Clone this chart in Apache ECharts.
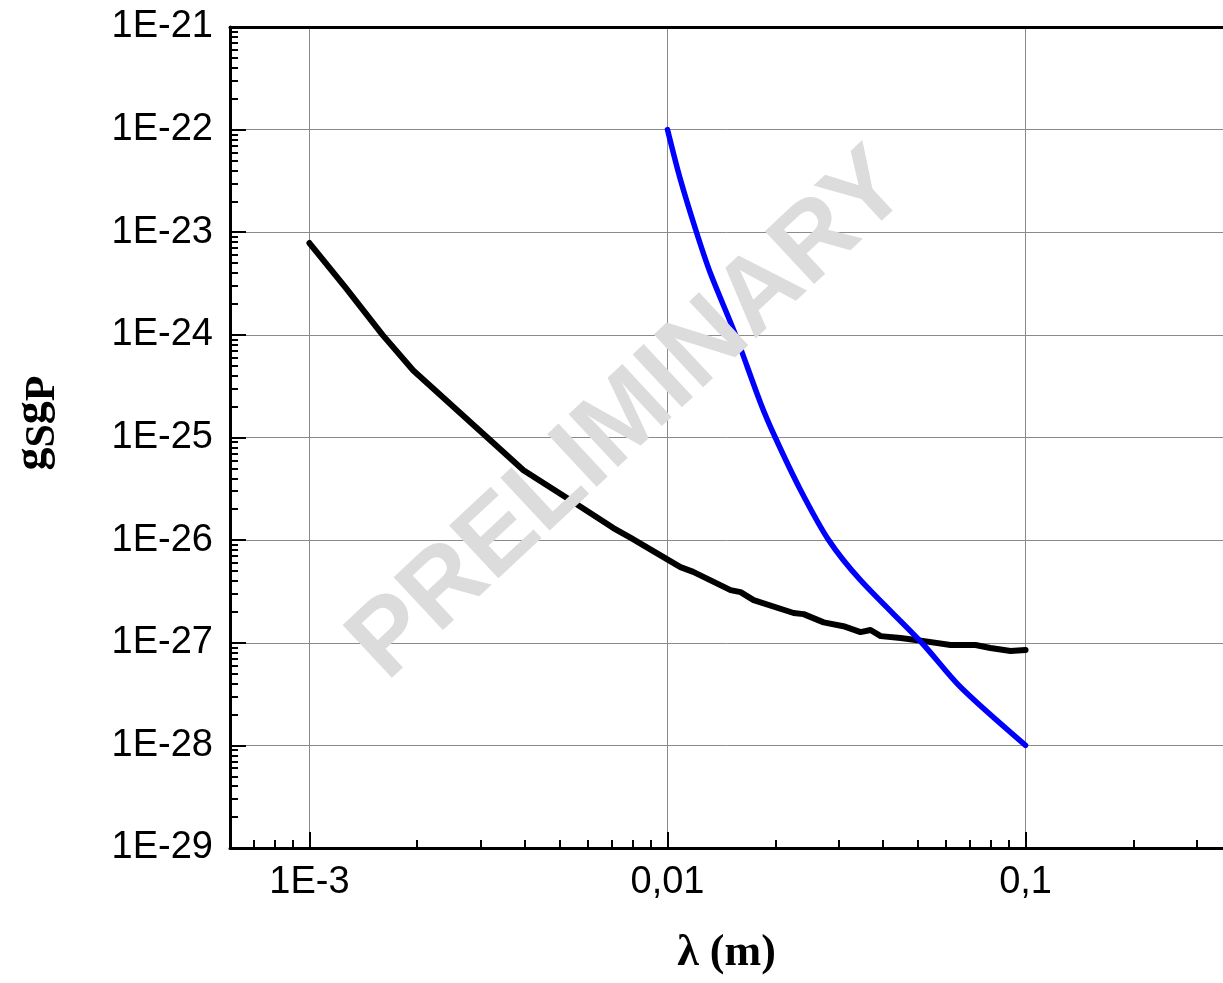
<!DOCTYPE html>
<html>
<head>
<meta charset="utf-8">
<script src="https://cdn.jsdelivr.net/npm/echarts@6/dist/echarts.min.js"></script>
<style>
html,body{margin:0;padding:0;background:#fff;}
#chart{width:1223px;height:983px;}
</style>
</head>
<body>
<div id="chart"></div>
<script>
// ---- data ----
const blackX = [1.0e-3, 1.26e-3, 1.6e-3, 1.95e-3, 3.27e-3, 3.96e-3, 5.36e-3, 7.06e-3, 7.9e-3, 9.56e-3, 1.087e-2, 1.18e-2, 1.50e-2, 1.60e-2, 1.74e-2, 2.25e-2, 2.40e-2, 2.73e-2, 3.10e-2, 3.46e-2, 3.69e-2, 3.94e-2, 4.48e-2, 4.99e-2, 6.17e-2, 7.25e-2, 7.98e-2, 9.08e-2, 0.1];
const blackY = [7.85e-24, 2.9e-24, 1.0e-24, 4.5e-25, 8.8e-26, 4.8e-26, 2.45e-26, 1.31e-26, 1.05e-26, 7.1e-27, 5.46e-27, 4.9e-27, 3.26e-27, 3.11e-27, 2.6e-27, 1.95e-27, 1.9e-27, 1.58e-27, 1.45e-27, 1.27e-27, 1.33e-27, 1.16e-27, 1.11e-27, 1.06e-27, 9.5e-28, 9.5e-28, 8.9e-28, 8.3e-28, 8.5e-28];
const blueX = [1.0e-2, 1.087e-2, 1.205e-2, 1.318e-2, 1.549e-2, 1.82e-2, 2.0e-2, 2.35e-2, 2.82e-2, 3.46e-2, 5.13e-2, 6.58e-2, 0.1];
const blueY = [1e-22, 3.24e-23, 1e-23, 3.98e-24, 1e-24, 2.16e-25, 1e-25, 3.1e-26, 1e-26, 4.07e-27, 1e-27, 3.7e-28, 1e-28];

const xMin = 6e-4, xMax = 0.356;
const yMinExp = -29, yMaxExp = -21;
const xTickValues = [1e-3, 1e-2, 1e-1];
const xTickLabels = ['1E-3', '0,01', '0,1'];
const xMinorTicks = [7e-4, 8e-4, 9e-4, 2e-3, 3e-3, 4e-3, 5e-3, 6e-3, 7e-3, 8e-3, 9e-3, 2e-2, 3e-2, 4e-2, 5e-2, 6e-2, 7e-2, 8e-2, 9e-2, 0.2, 0.3];
const yExponents = [-29, -28, -27, -26, -25, -24, -23, -22, -21];
const xTitle = 'λ (m)';
const watermark = 'PRELIMINARY';

// ECharts rounds log-axis tick values to 20 decimals, so tiny values lose their ticks.
// Plot y in a scaled unit (value * 1e30) and convert back in the tick labels.
const yUnitExp = 30;
const yUnit = 1e30;
const yTickValues = yExponents.map(e => Number('1e' + (e + yUnitExp)));
const yMinorTicks = [];
yExponents.slice(0, -1).forEach(e => {
  [2, 3, 4, 5, 6, 7, 8, 9].forEach(k => yMinorTicks.push(Number(k + 'e' + (e + yUnitExp))));
});
const yAxisMin = Number('1e' + (yMinExp + yUnitExp));
const yAxisMax = Number('1e' + (yMaxExp + yUnitExp));

const pairs = (xs, ys) => xs.map((x, i) => [x, ys[i] * yUnit]);

const labelFont = {color: '#000', fontSize: 38, fontFamily: '"Liberation Sans", Arial, sans-serif'};
const serif = '"Liberation Serif", "Times New Roman", serif';
const chart = echarts.init(document.getElementById('chart'), null, {renderer: 'canvas'});
chart.setOption({
  animation: false,
  backgroundColor: '#fff',
  grid: {left: 230, right: 0, top: 27, bottom: 135, containLabel: false},
  xAxis: [
    {
      type: 'log', min: xMin, max: xMax, position: 'bottom',
      name: xTitle, nameLocation: 'middle', nameGap: 84,
      nameTextStyle: {color: '#000', fontSize: 44, fontWeight: 'bold', fontFamily: serif},
      axisLine: {show: true, lineStyle: {color: '#000', width: 3}},
      axisTick: {show: true, inside: true, length: 16, customValues: xTickValues, lineStyle: {color: '#000', width: 2}},
      axisLabel: {show: true, margin: 16, customValues: xTickValues,
        formatter: v => { const i = xTickValues.findIndex(t => Math.abs(Math.log10(t) - Math.log10(v)) < 1e-6); return i >= 0 ? xTickLabels[i] : ''; },
        ...labelFont},
      splitLine: {show: true, lineStyle: {color: '#8a8a8a', width: 1}}
    },
    {
      type: 'log', min: xMin, max: xMax, position: 'bottom', offset: 0,
      axisLine: {show: false},
      axisTick: {show: true, inside: true, length: 8, customValues: xMinorTicks, lineStyle: {color: '#000', width: 2}},
      axisLabel: {show: false},
      splitLine: {show: false}
    },
    {
      type: 'log', min: xMin, max: xMax, position: 'top', offset: 0,
      axisLine: {show: true, lineStyle: {color: '#000', width: 3}},
      axisTick: {show: false},
      axisLabel: {show: false},
      splitLine: {show: false}
    }
  ],
  yAxis: [
    {
      type: 'log', min: yAxisMin, max: yAxisMax, position: 'left',
      axisLine: {show: true, lineStyle: {color: '#000', width: 3}},
      axisTick: {show: true, inside: true, length: 16, customValues: yTickValues, lineStyle: {color: '#000', width: 2}},
      axisLabel: {show: true, margin: 17, customValues: yTickValues, showMinLabel: true, showMaxLabel: true,
        formatter: v => '1E' + (Math.round(Math.log10(v)) - yUnitExp),
        ...labelFont},
      splitLine: {show: true, lineStyle: {color: '#8a8a8a', width: 1}}
    },
    {
      type: 'log', min: yAxisMin, max: yAxisMax, position: 'left', offset: 0,
      axisLine: {show: false},
      axisTick: {show: true, inside: true, length: 8, customValues: yMinorTicks, lineStyle: {color: '#000', width: 2}},
      axisLabel: {show: false},
      splitLine: {show: false}
    }
  ],
  series: [
    {
      name: 'black', type: 'line', xAxisIndex: 0, yAxisIndex: 0,
      data: pairs(blackX, blackY), showSymbol: false, symbol: 'none',
      lineStyle: {color: '#000', width: 6, cap: 'round', join: 'round'}, z: 3
    },
    {
      name: 'blue', type: 'line', xAxisIndex: 0, yAxisIndex: 0,
      data: pairs(blueX, blueY), showSymbol: false, symbol: 'none', smooth: 0.3,
      lineStyle: {color: '#0000ff', width: 5.5, cap: 'round', join: 'round'}, z: 4
    }
  ],
  graphic: [
    {
      type: 'text', x: 33, y: 423, rotation: Math.PI / 2, z: 10,
      style: {
        text: '{g|g}{s|S}{g|g}{s|P}', align: 'center', verticalAlign: 'middle',
        rich: {
          g: {fontSize: 46, fontWeight: 'bold', fontFamily: serif, fill: '#000', lineHeight: 62, verticalAlign: 'middle'},
          s: {fontSize: 42, fontWeight: 'bold', fontFamily: serif, fill: '#000', lineHeight: 42, verticalAlign: 'bottom'}
        }
      }
    },
    {
      type: 'text', x: 630, y: 416, rotation: 43 * Math.PI / 180, z: 100,
      style: {
        text: watermark, align: 'center', verticalAlign: 'middle',
        fontSize: 105, fontWeight: 'bold', fontFamily: '"Liberation Sans", Arial, sans-serif', fill: '#dcdcdc'
      }
    }
  ]
});
</script>
</body>
</html>
